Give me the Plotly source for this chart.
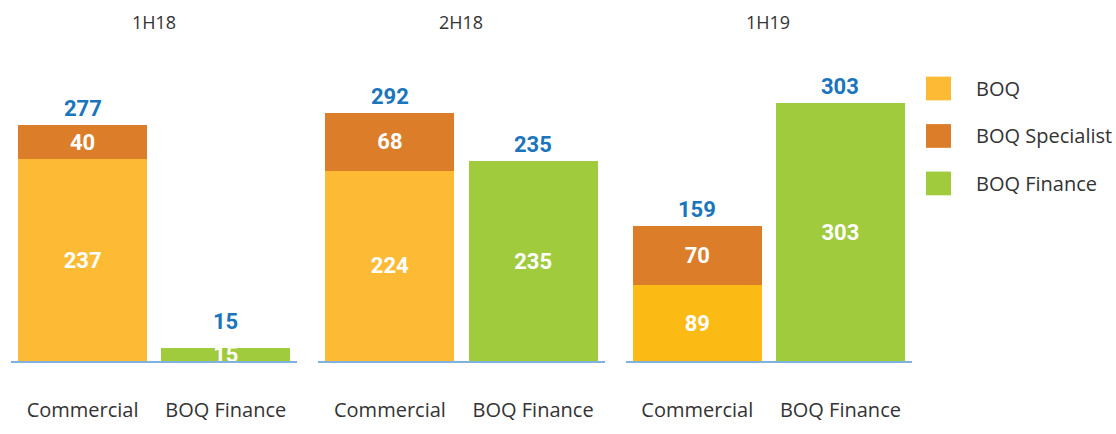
import plotly.graph_objects as go
from plotly.subplots import make_subplots

periods = ["1H18", "2H18", "1H19"]
categories = ["Commercial", "BOQ Finance"]
series_names = ["BOQ", "BOQ Specialist", "BOQ Finance"]
# values per period: [Commercial, BOQ Finance]
boq = [[237, 0], [224, 0], [89, 0]]
boq_specialist = [[40, 0], [68, 0], [70, 0]]
boq_finance = [[0, 15], [0, 235], [0, 303]]

series_values = [boq, boq_specialist, boq_finance]
colors = ["#FDBB35", "#DC7D29", "#9FCB3C"]
boq_colors_by_period = ["#FDBB35", "#FDBB35", "#FCBA14"]

W, H = 1116, 434
L, R, T, B = 11, 204, 60, 57
pw, ph = W - L - R, H - T - B
Y_MAX = 354

fig = make_subplots(rows=1, cols=3, horizontal_spacing=21 / pw, shared_yaxes=True)

num_family = "Roboto, DejaVu Sans, sans-serif"
txt_family = "Open Sans, Lato, sans-serif"
label_font = dict(family=num_family, size=22, color="white", weight="bold")

for pi, period in enumerate(periods):
    for si, name in enumerate(series_names):
        vals = series_values[si][pi]
        col = colors[si] if si != 0 else boq_colors_by_period[pi]
        texts = [str(v) if v > 0 else "" for v in vals]
        fig.add_trace(
            go.Bar(
                x=categories,
                y=vals,
                name=name,
                marker=dict(color=col, line=dict(width=0)),
                text=texts,
                textposition="inside",
                insidetextanchor="middle",
                constraintext="none",
                textfont=label_font,
                showlegend=False,
                hoverinfo="skip",
            ),
            row=1, col=pi + 1,
        )
    # totals
    for ci, cat in enumerate(categories):
        total = sum(series_values[si][pi][ci] for si in range(len(series_names)))
        bar_px = total / Y_MAX * ph
        fig.add_annotation(
            x=cat, y=total, xref=f"x{'' if pi == 0 else pi + 1}", yref="y",
            text=str(total), showarrow=False, yanchor="bottom",
            yshift=2 + max(0, 24 - bar_px),
            font=dict(family=num_family, size=22, color="#1B75BC", weight="bold"),
        )
    # period title
    dom_start = pi * (286 + 21) / pw
    dom_end = dom_start + 286 / pw
    fig.add_annotation(
        x=(dom_start + dom_end) / 2, y=1, xref="paper", yref="paper",
        xanchor="center", yanchor="middle", yshift=T - 22, showarrow=False, text=period,
        font=dict(family=txt_family, size=18, color="#333333"),
    )

fig.update_xaxes(
    showline=True, linecolor="#7FB2DE", linewidth=2, ticks="", showgrid=False,
    tickfont=dict(family=txt_family, size=20, color="#333333"),
    ticklabelstandoff=30, fixedrange=True,
)
fig.update_yaxes(visible=False, range=[0, Y_MAX], showgrid=False, zeroline=False,
                 fixedrange=True)

# legend (drawn manually to match the large square swatches)
for si, name in enumerate(series_names):
    yc = 90 + 50 * si
    y_p = (H - B - yc) / ph
    half = 12.5 / ph
    fig.add_shape(type="rect", xref="paper", yref="paper",
                  x0=(926 - L) / pw, x1=(951 - L) / pw, y0=y_p - half, y1=y_p + half,
                  fillcolor=colors[si], line=dict(width=0))
    fig.add_annotation(x=(974 - L) / pw, y=y_p, xref="paper", yref="paper",
                       xanchor="left", yanchor="middle", showarrow=False, text=name,
                       font=dict(family=txt_family, size=20, color="#333333"))

fig.update_layout(
    width=W, height=H, barmode="stack", bargap=0.1,
    margin=dict(l=L, r=R, t=T, b=B),
    plot_bgcolor="white", paper_bgcolor="white",
    showlegend=False,
)

fig.write_html(
    "out.html",
    config={"displayModeBar": False},
    post_script=(
        "var s=document.documentElement.style;s.margin='0';s.padding='0';"
        "s.overflow='hidden';"
        "var b=document.body.style;b.margin='0';b.padding='0';"
        "b.overflow='hidden';"
    ),
)
